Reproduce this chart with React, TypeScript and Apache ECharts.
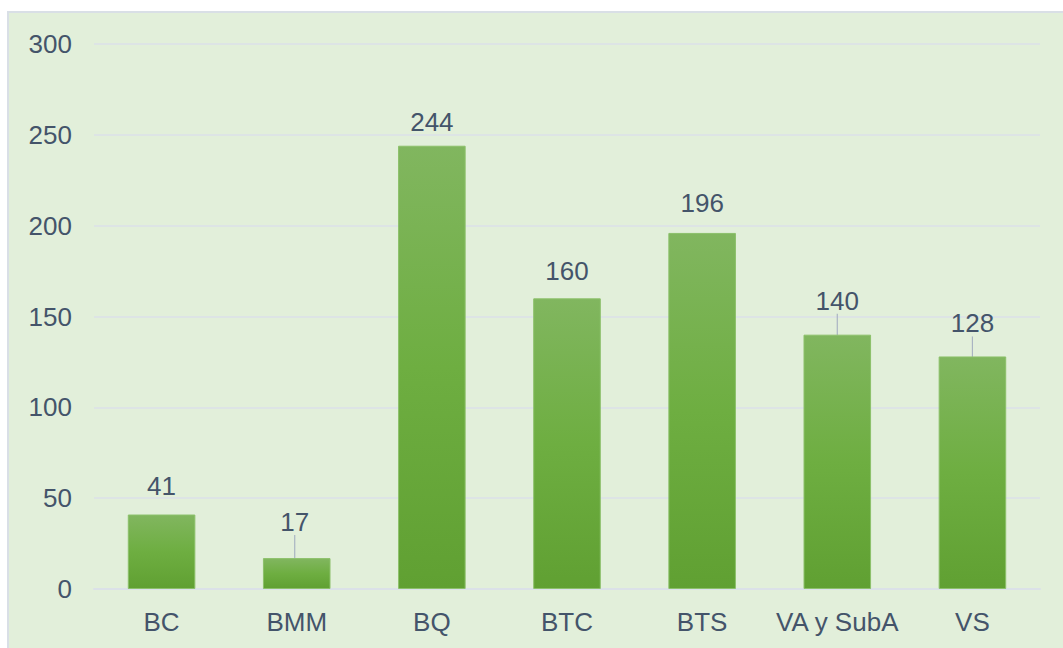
import React, { useEffect, useRef } from "react";
import * as echarts from "echarts";

const categories = ["BC", "BMM", "BQ", "BTC", "BTS", "VA y SubA", "VS"];
const values = [41, 17, 244, 160, 196, 140, 128];
const yTicks = [0, 50, 100, 150, 200, 250, 300];

// label placement tweaks (pixels): distance above bar, extra lift with leader line
const labelDistance = [16, 5, 11, 14, 17, 5, 5];
const labelLift = [0, -18, 0, 0, 0, -16, -15];
const labelShiftX = [0, -2, 0, 0, 0, 0, 0];
const withLeader = [false, true, false, false, false, true, true];

const TEXT = "#44546a";
const FONT = "Liberation Sans, Arial, sans-serif";
const FS = 26;

export default function App() {
  const ref = useRef<HTMLDivElement>(null);
  useEffect(() => {
    document.body.style.margin = "0";
    const chart = echarts.init(ref.current!, null, { renderer: "svg" });
    chart.setOption({
      animation: false,
      backgroundColor: "#ffffff",
      graphic: [
        {
          type: "rect",
          z: -10,
          silent: true,
          shape: { x: 8, y: 12, width: 1070, height: 650 },
          style: { fill: "#e2efda", stroke: "#d9dfe6", lineWidth: 2 },
        },
      ],
      grid: { left: 94, right: 23, top: 44, bottom: 59, containLabel: false },
      xAxis: {
        type: "category",
        data: categories,
        axisLine: { show: true, lineStyle: { color: "#dbe1e8", width: 2 } },
        axisTick: { show: false },
        axisLabel: { color: TEXT, fontSize: FS, fontFamily: FONT, margin: 20, interval: 0 },
      },
      yAxis: {
        type: "value",
        min: yTicks[0],
        max: yTicks[yTicks.length - 1],
        interval: 50,
        axisLine: { show: false },
        axisTick: { show: false },
        splitLine: { lineStyle: { color: "#dbe1e8", width: 1.5 } },
        axisLabel: { color: TEXT, fontSize: FS, fontFamily: FONT, margin: 22 },
      },
      series: [
        {
          type: "bar",
          barWidth: "50%",
          data: values.map((v, i) => ({
            value: v,
            label: { distance: labelDistance[i] },
            labelLine: { show: withLeader[i] },
          })),
          itemStyle: {
            color: new echarts.graphic.LinearGradient(0, 0, 0, 1, [
              { offset: 0, color: "#81b65f" },
              { offset: 0.5, color: "#6eae41" },
              { offset: 1, color: "#60a032" },
            ]),
            borderColor: "#8cc06a",
            borderWidth: 1,
          },
          label: {
            show: true,
            position: "top",
            color: TEXT,
            fontSize: FS,
            fontFamily: FONT,
          },
          labelLine: {
            show: false,
            lineStyle: { color: "#a9b4c2", width: 1.2 },
          },
          labelLayout: (params: any) => ({
            dy: labelLift[params.dataIndex],
            dx: labelShiftX[params.dataIndex],
          }),
        },
      ],
    });
    return () => chart.dispose();
  }, []);
  return <div ref={ref} style={{ width: 1063, height: 648 }} />;
}
